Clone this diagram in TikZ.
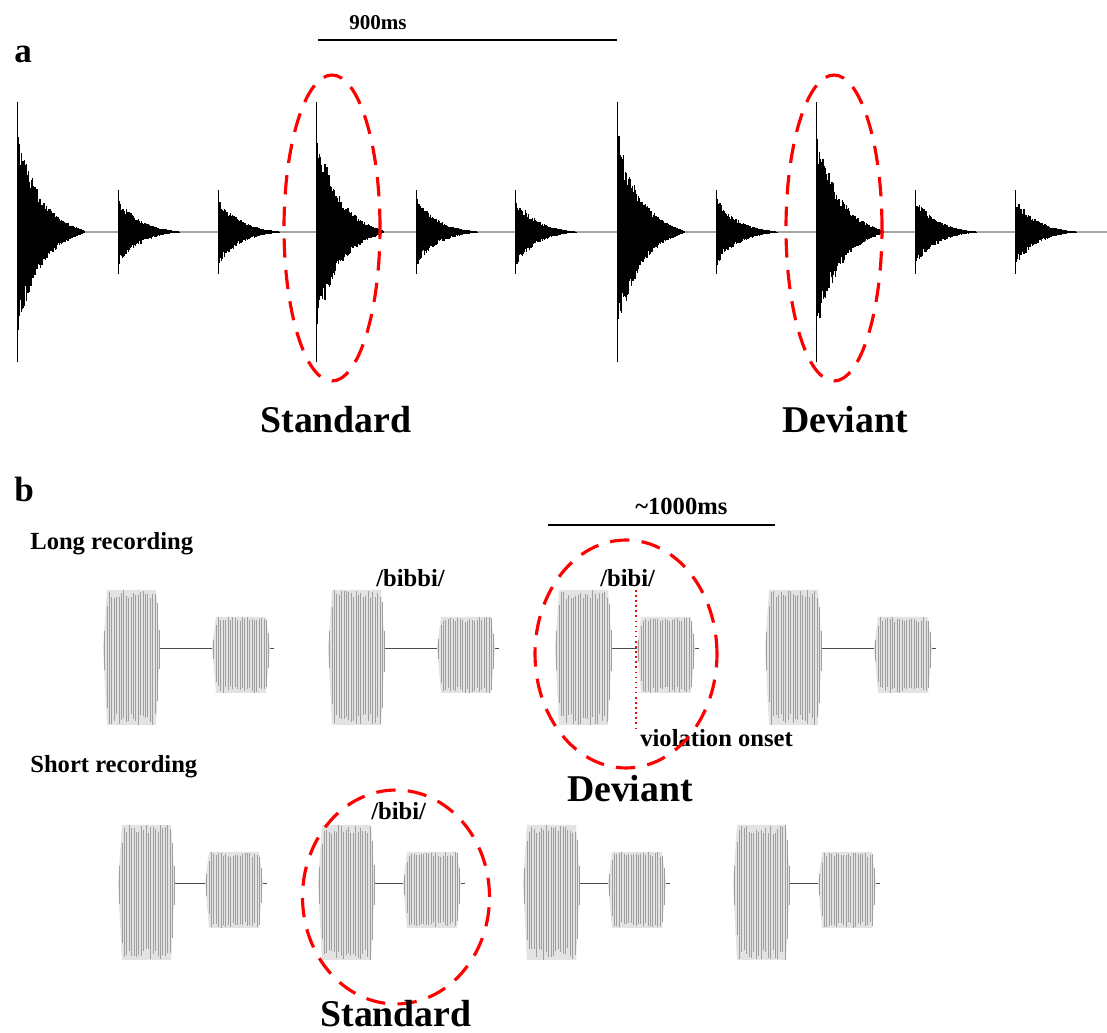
\documentclass[tikz,border=0pt]{standalone}
\usepackage{fontspec}
\setmainfont{Liberation Serif}
\usetikzlibrary{positioning}

% one drum hit: onset x, spike half height, start amplitude, decay length
\newcommand{\hitwave}[4]{%
  \begin{scope}[shift={(#1,232)}]
    \draw[hit line] (0,-#2) -- (0,#2);
    \foreach \t in {0.5,1.2,...,#4} {
      \pgfmathsetmacro\hitamp{#3*exp(-\t/(0.42*#4))*sqrt(max(0,1-\t/#4))}
      \draw[hit fill] (\t,{-\hitamp*(0.75+0.35*rnd)}) -- (\t,{\hitamp*(0.75+0.35*rnd)});
    }
  \end{scope}}

% one syllable block: x, y, width, top, bottom
\newcommand{\syllable}[5]{%
  \begin{scope}[shift={(#1,#2)}]
    \fill[syl fill] (0,0) -- (4,-#4) -- (#3-4,-#4) -- (#3,0) -- (#3-4,#5) -- (4,#5) -- cycle;
    \foreach \t in {1.5,3.9,...,#3} {
      \pgfmathsetmacro\sylf{min(1,\t/5,(#3-\t)/5+0.25)}
      \draw[syl line] (\t,{-#4*\sylf*(0.85+0.15*rnd)}) -- (\t,{#5*\sylf*(0.85+0.15*rnd)});
    }
    \draw[syl gap] (#3,0) -- (#3+4,0);
  \end{scope}}

% /bibi/ token: x, baseline y, gap between the syllables
\newcommand{\bibi}[3]{%
  \syllable{#1}{#2}{57}{58}{77}
  \draw[syl gap] (#1+57,#2) -- (#1+57+#3,#2);
  \syllable{#1+57+#3}{#2}{58}{31}{45}}

\begin{document}
\begin{tikzpicture}[x=0.02cm, y=-0.02cm,
    hit line/.style={black, line width=0.5pt},
    hit fill/.style={black, line width=0.7pt},
    base line/.style={gray!70, line width=0.8pt},
    syl fill/.style={fill=gray!22},
    syl line/.style={gray!75, line width=0.3pt},
    syl gap/.style={gray!60!black, line width=0.5pt},
    bar/.style={black, line width=1.1pt},
    ring/.style={red, line width=1.8pt, dash pattern=on 11pt off 7pt},
    onset/.style={red, line width=0.9pt, dotted},
    panel/.style={inner sep=0pt, font=\bfseries\fontsize{20}{24}\selectfont},
    big lbl/.style={inner sep=0pt, font=\bfseries\fontsize{21.5}{26}\selectfont},
    mid lbl/.style={inner sep=0pt, font=\bfseries\fontsize{14}{17}\selectfont},
    small lbl/.style={inner sep=0pt, font=\bfseries\fontsize{12}{14}\selectfont}]

\useasboundingbox (0,0) rectangle (1107,1033);
\pgfmathsetseed{7}

% panel a
\node[panel, anchor=base west] (pa) at (14,63) {a};
\coordinate (barA1) at (318,40);
\coordinate (barA2) at (617,40);
\draw[bar] (barA1) -- (barA2);
\node[small lbl, anchor=base] (tA) at (378,30) {900ms};

\coordinate (axA1) at (17,232);
\coordinate (axA2) at (1107,232);
\draw[base line] (axA1) -- (axA2);
\foreach \x in {17,316,617,816} {\hitwave{\x}{130}{95}{68}}
\foreach \x in {118,218,416,515,716,915,1015} {\hitwave{\x}{42}{32}{62}}

\coordinate (ringA1) at (332,228);
\coordinate (ringA2) at (834,228);
\draw[ring] (ringA1) ellipse [x radius=0.96cm, y radius=3.06cm];
\draw[ring] (ringA2) ellipse [x radius=0.96cm, y radius=3.06cm];
\node[big lbl, anchor=base] (stdA) at (336,433) {Standard};
\node[big lbl, anchor=base] (devA) at (845,433) {Deviant};

% panel b
\node[panel, anchor=base west] (pb) at (14,502) {b};
\coordinate (barB1) at (548,525);
\coordinate (barB2) at (775,525);
\draw[bar] (barB1) -- (barB2);
\node[mid lbl, anchor=base west] (tB) at (635,515) {\textasciitilde1000ms};

\node[mid lbl, anchor=base west] (longrec) at (30,550) {Long recording};
\node[mid lbl, anchor=base west] (shortrec) at (30,773) {Short recording};

\bibi{103}{648}{52}
\bibi{328}{648}{52}
\bibi{555}{648}{25}
\bibi{765}{648}{52}

\bibi{118}{883}{30}
\bibi{318}{883}{28}
\bibi{523}{883}{28}
\bibi{733}{883}{28}

\node[mid lbl, anchor=base west] (bibbi) at (376,587) {/bibbi/};
\node[mid lbl, anchor=base west] (bibiL) at (600,587) {/bibi/};
\node[mid lbl, anchor=base west] (bibiS) at (371,820) {/bibi/};

\coordinate (onset1) at (636,590);
\coordinate (onset2) at (636,730);
\draw[onset] (onset1) -- (onset2);
\node[mid lbl, anchor=base west] (viol) at (640,747) {violation onset};

\coordinate (ringB1) at (626,654);
\coordinate (ringB2) at (396,897);
\draw[ring] (ringB1) ellipse [x radius=1.82cm, y radius=2.28cm];
\draw[ring] (ringB2) ellipse [x radius=1.87cm, y radius=2.14cm];
\node[big lbl, anchor=base] (devB) at (630,802) {Deviant};
\node[big lbl, anchor=base] (stdB) at (396,1027) {Standard};

\end{tikzpicture}
\end{document}
